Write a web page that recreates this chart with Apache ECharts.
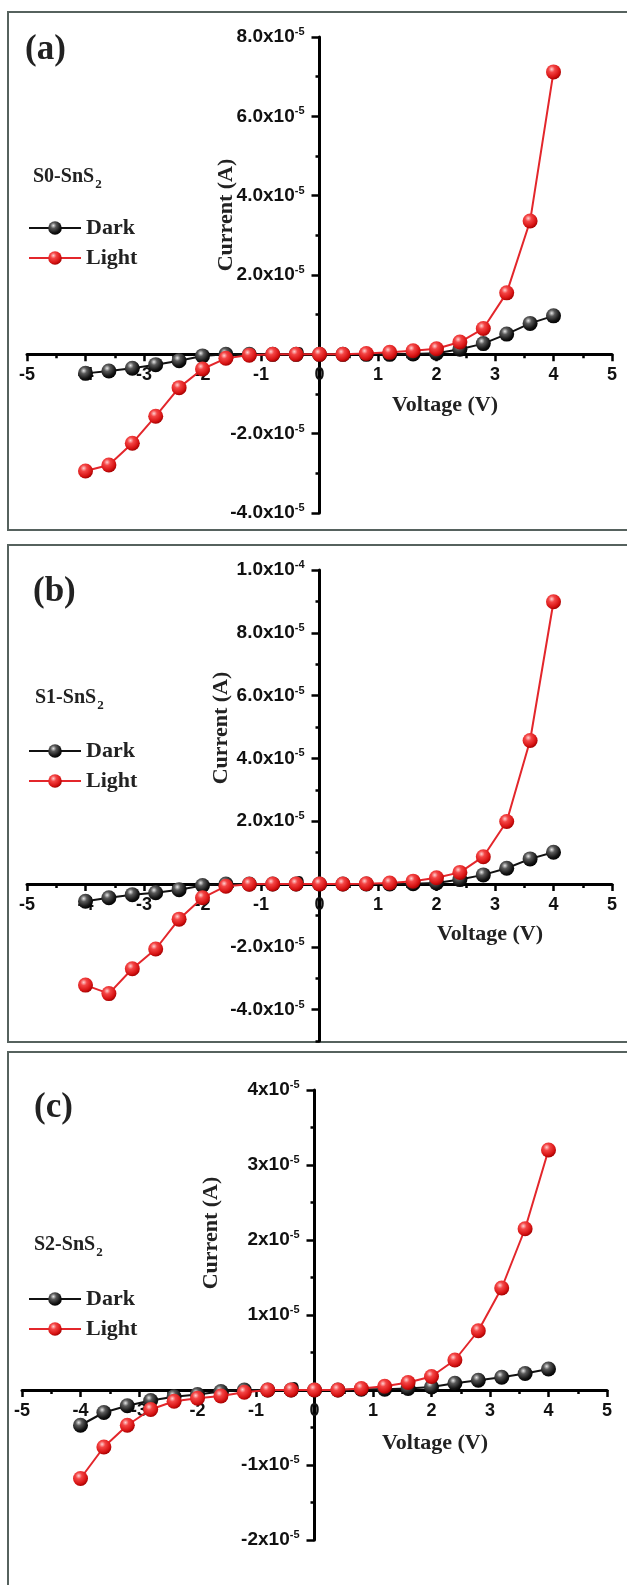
<!DOCTYPE html>
<html>
<head>
<meta charset="utf-8">
<title>I-V curves of SnS2 samples</title>
<script src="https://cdn.jsdelivr.net/npm/echarts@6/dist/echarts.min.js"></script>
<style>
  html, body { margin: 0; padding: 0; background: #fff; }
  #chart { width: 627px; height: 1585px; }
</style>
</head>
<body>
<div id="chart"></div>
<script>
// voltage steps (V), same for every panel
const voltage = [-4, -3.6, -3.2, -2.8, -2.4, -2.0, -1.6, -1.2, -0.8, -0.4, 0, 0.4, 0.8, 1.2, 1.6, 2.0, 2.4, 2.8, 3.2, 3.6, 4.0];

// currents (A)
const darkS0  = [-4.8e-6, -4.2e-6, -3.5e-6, -2.6e-6, -1.6e-6, -0.4e-6, 0, 0, 0, 0, 0, 0, 0, 0, 0.1e-6, 0.3e-6, 1.3e-6, 2.7e-6, 5.1e-6, 7.8e-6, 9.7e-6];
const lightS0 = [-29.4e-6, -27.9e-6, -22.4e-6, -15.6e-6, -8.4e-6, -3.7e-6, -1.0e-6, -0.2e-6, 0, 0, 0, 0, 0.2e-6, 0.5e-6, 0.9e-6, 1.4e-6, 3.1e-6, 6.5e-6, 15.5e-6, 33.6e-6, 71.2e-6];
const darkS1  = [-5.5e-6, -4.4e-6, -3.4e-6, -2.8e-6, -1.8e-6, -0.5e-6, 0, 0, 0, 0, 0, 0, 0, 0, 0.1e-6, 0.3e-6, 1.4e-6, 2.9e-6, 5.0e-6, 8.0e-6, 10.1e-6];
const lightS1 = [-32.2e-6, -34.9e-6, -27.0e-6, -20.7e-6, -11.2e-6, -4.4e-6, -0.7e-6, -0.1e-6, 0, 0, 0, 0, 0.1e-6, 0.3e-6, 0.9e-6, 2.0e-6, 3.7e-6, 8.7e-6, 19.9e-6, 45.7e-6, 89.9e-6];
const darkS2  = [-4.7e-6, -3.0e-6, -2.1e-6, -1.4e-6, -0.9e-6, -0.6e-6, -0.2e-6, 0, 0, 0, 0, 0, 0.1e-6, 0.1e-6, 0.2e-6, 0.4e-6, 0.9e-6, 1.3e-6, 1.7e-6, 2.2e-6, 2.8e-6];
const lightS2 = [-11.8e-6, -7.6e-6, -4.7e-6, -2.6e-6, -1.5e-6, -1.1e-6, -0.8e-6, -0.3e-6, 0, 0, 0, 0, 0.2e-6, 0.5e-6, 1.0e-6, 1.8e-6, 4.0e-6, 7.9e-6, 13.6e-6, 21.5e-6, 32.0e-6];

// labelled y ticks of panel (b) (its axis runs down to -5e-5)
const majorTicksS1 = [-4e-5, -2e-5, 0, 2e-5, 4e-5, 6e-5, 8e-5, 1e-4];

const panelLabels = ['(a)', '(b)', '(c)'];
const sampleNames = ['S0-SnS', 'S1-SnS', 'S2-SnS'];

const SERIF = '"Liberation Serif", "Times New Roman", serif';
const SANS = '"Liberation Sans", Arial, sans-serif';

// panel boxes: grid rect + axis ranges
const panels = [
  { left: 27, top: 37,   width: 585, height: 476, yMin: -4e-5, yMax: 8e-5 },
  { left: 27, top: 570,  width: 585, height: 471, yMin: -5e-5, yMax: 1e-4 },
  { left: 22, top: 1090, width: 585, height: 450, yMin: -2e-5, yMax: 4e-5 }
];
const X_MIN = -5, X_MAX = 5;

// shift the axes from the grid edge onto the zero lines
function xOffset(p) { return -(p.height * (-p.yMin) / (p.yMax - p.yMin)); }
function yOffset(p) { return -(p.width * (-X_MIN) / (X_MAX - X_MIN)); }

const chart = echarts.init(document.getElementById('chart'));

function ball(c0, c1, c2, c3) {
  return {
    type: 'radial', x: 0.38, y: 0.32, r: 0.7,
    colorStops: [
      { offset: 0, color: c0 },
      { offset: 0.3, color: c1 },
      { offset: 0.75, color: c2 },
      { offset: 1, color: c3 }
    ]
  };
}
const blackBall = ball('#e6e6e6', '#5a5a5a', '#151515', '#000');
const redBall = ball('#ffd0d0', '#f44545', '#d81414', '#a30000');

function sciLabel(dec) {
  return function (v) {
    if (Math.abs(v) < 1e-12) return '{n|0}';
    const e = Math.floor(Math.log10(Math.abs(v)) + 1e-9);
    const m = v / Math.pow(10, e);
    return '{n|' + m.toFixed(dec) + 'x10}{s|' + e + '}';
  };
}

const tickRich = {
  n: { fontSize: 19, fontWeight: 'bold', fontFamily: SANS, color: '#111', lineHeight: 21 },
  s: { fontSize: 11, fontWeight: 'bold', fontFamily: SANS, color: '#111', lineHeight: 11, verticalAlign: 'top' }
};

const axisLine = { onZero: false, lineStyle: { color: '#000', width: 3 } };
const tickStyle = { width: 2.5, color: '#000' };

function xAxis(i) {
  return {
    type: 'value', gridIndex: i, position: 'bottom', offset: xOffset(panels[i]),
    min: X_MIN, max: X_MAX, interval: 1,
    axisLine: axisLine,
    axisTick: { length: 7, lineStyle: tickStyle },
    minorTick: { show: true, splitNumber: 2, length: 4, lineStyle: tickStyle },
    splitLine: { show: false },
    axisLabel: { margin: 12, fontSize: 18, fontWeight: 'bold', fontFamily: SANS, color: '#111' }
  };
}

function yAxis(i, interval, extra) {
  const p = panels[i];
  return Object.assign({
    type: 'value', gridIndex: i, position: 'left', offset: yOffset(p),
    min: p.yMin, max: p.yMax, interval: interval,
    axisLine: axisLine,
    axisTick: { length: 8, lineStyle: tickStyle },
    minorTick: { show: true, splitNumber: 2, length: 4, lineStyle: tickStyle },
    splitLine: { show: false },
    axisLabel: { margin: 15, formatter: sciLabel(i === 2 ? 0 : 1), rich: tickRich }
  }, extra || {});
}

function series(name, data, xi, yi, isLight) {
  return {
    name: name, type: 'line', xAxisIndex: xi, yAxisIndex: yi,
    data: voltage.map((v, i) => [v, data[i]]),
    symbol: 'circle', symbolSize: 15,
    lineStyle: { width: 2, color: isLight ? '#e3262b' : '#111' },
    itemStyle: { color: isLight ? redBall : blackBall },
    z: isLight ? 3 : 2
  };
}

function legend(top) {
  return {
    orient: 'vertical', left: 28, top: top, padding: 0, itemGap: 0,
    itemWidth: 52, itemHeight: 17,
    data: ['Dark', 'Light'],
    textStyle: { fontSize: 22, fontWeight: 'bold', fontFamily: SERIF, color: '#222', lineHeight: 30 }
  };
}

function panelTitle(text, left, top) {
  return { text: text, left: left, top: top, padding: 0,
    textStyle: { fontSize: 35, fontWeight: 'bold', fontFamily: SERIF, color: '#222' } };
}
function sampleTitle(i, left, top) {
  return { text: '{m|' + sampleNames[i] + '}{sub|2}', left: left, top: top, padding: 0,
    textStyle: { rich: {
      m: { fontSize: 20, fontWeight: 'bold', fontFamily: SERIF, color: '#222', lineHeight: 22 },
      sub: { fontSize: 13, fontWeight: 'bold', fontFamily: SERIF, color: '#222', lineHeight: 13, verticalAlign: 'top', padding: [12, 0, 0, 1] }
    } } };
}

function frame(y, h) {
  return { type: 'rect', silent: true, shape: { x: 8, y: y, width: 625, height: h },
    style: { fill: 'none', stroke: '#56625e', lineWidth: 2 } };
}
function axisName(text, x, y, vertical) {
  return { type: 'text', silent: true, x: x, y: y, rotation: vertical ? Math.PI / 2 : 0,
    style: { text: text, fill: '#222', font: 'bold 22px ' + SERIF, align: 'center', verticalAlign: 'middle' } };
}

const option = {
  animation: false,
  backgroundColor: '#fff',
  graphic: [
    frame(12, 518), frame(545, 497), frame(1052, 600),
    axisName('Current (A)', 226, 215, true), axisName('Voltage (V)', 445, 405, false),
    axisName('Current (A)', 221, 728, true), axisName('Voltage (V)', 490, 934, false),
    axisName('Current (A)', 211, 1233, true), axisName('Voltage (V)', 435, 1443, false)
  ],
  title: [
    panelTitle(panelLabels[0], 25, 32), sampleTitle(0, 33, 166),
    panelTitle(panelLabels[1], 33, 574), sampleTitle(1, 35, 687),
    panelTitle(panelLabels[2], 34, 1090), sampleTitle(2, 34, 1234)
  ],
  legend: [legend(213), legend(736), legend(1284)],
  grid: panels.map(p => ({ left: p.left, top: p.top, width: p.width, height: p.height,
    containLabel: false, outerBoundsMode: 'none' })),
  xAxis: [xAxis(0), xAxis(1), xAxis(2)],
  yAxis: [
    yAxis(0, 2e-5),
    // panel (b): every 1e-5 a short tick, labels on the even ones
    yAxis(1, 1e-5, {
      axisTick: { length: 4, lineStyle: tickStyle },
      minorTick: { show: false },
      axisLabel: { margin: 15, customValues: majorTicksS1, formatter: sciLabel(1), rich: tickRich }
    }),
    // longer ticks at the labelled values of panel (b)
    yAxis(1, 1e-5, {
      axisLine: { show: false, onZero: false },
      axisTick: { length: 8, customValues: majorTicksS1, lineStyle: tickStyle },
      minorTick: { show: false },
      axisLabel: { show: false }
    }),
    yAxis(2, 1e-5)
  ],
  series: [
    series('Dark', darkS0, 0, 0, false),
    series('Light', lightS0, 0, 0, true),
    series('Dark', darkS1, 1, 1, false),
    series('Light', lightS1, 1, 1, true),
    series('Dark', darkS2, 2, 3, false),
    series('Light', lightS2, 2, 3, true)
  ]
};

chart.setOption(option);
window.addEventListener('resize', () => chart.resize());
</script>
</body>
</html>
